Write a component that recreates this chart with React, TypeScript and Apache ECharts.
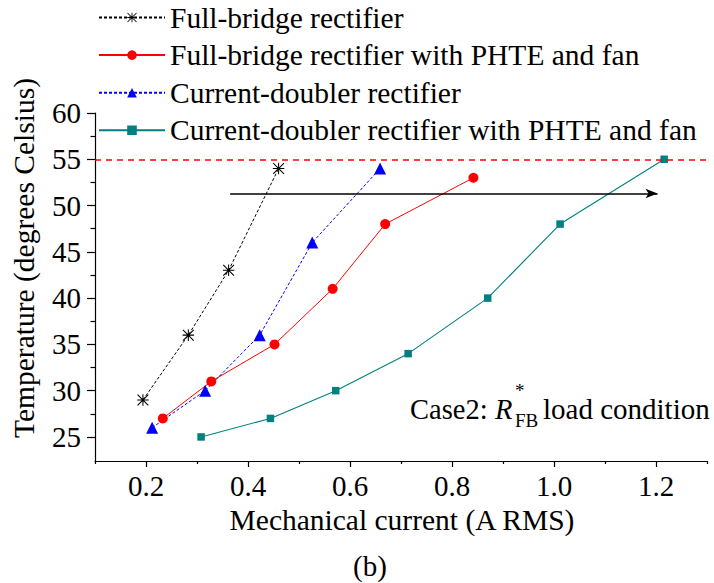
import React, { useEffect, useRef } from "react";
import * as echarts from "echarts";

const FONT = '"Liberation Serif", "Times New Roman", Times, serif';

const seriesNames = [
  "Full-bridge rectifier",
  "Full-bridge rectifier with PHTE and fan",
  "Current-doubler rectifier",
  "Current-doubler rectifier with PHTE and fan",
];

// Mechanical current (A RMS) and temperature (degrees Celsius)
const fbCurrent = [0.194, 0.283, 0.362, 0.46];
const fbTemp = [29, 36, 43, 54];
const fbPhteCurrent = [0.233, 0.328, 0.452, 0.566, 0.669, 0.842];
const fbPhteTemp = [27, 31, 35, 41, 48, 53];
const cdCurrent = [0.212, 0.316, 0.423, 0.526, 0.659];
const cdTemp = [26, 30, 36, 46, 54];
const cdPhteCurrent = [0.308, 0.444, 0.572, 0.714, 0.87, 1.012, 1.216];
const cdPhteTemp = [25, 27, 30, 34, 40, 48, 55];

const limitTemp = 55;
const arrowFrom = [0.365, 51.3];
const arrowTo = [1.203, 51.3];

const xMajorTicks = [0.2, 0.4, 0.6, 0.8, 1.0, 1.2];
const xMinorTicks = [0.1, 0.3, 0.5, 0.7, 0.9, 1.1, 1.3];
const yMajorTicks = [25, 30, 35, 40, 45, 50, 55, 60];
const yMinorTicks = [27.5, 32.5, 37.5, 42.5, 47.5, 52.5, 57.5];

const xMin = 0.1;
const xMax = 1.3;
const yMin = 22.4;
const yMax = 60;

const STAR =
  "path://M9.1 0H10.9V20H9.1Z M0 9.1H20V10.9H0Z M1.3 0L20 18.7L18.7 20L0 1.3Z M18.7 0L20 1.3L1.3 20L0 18.7Z";

const zip = (xs: number[], ys: number[]) => xs.map((x, i) => [x, ys[i]]);

const axisLineStyle = { color: "#000", width: 1.2 };

function txt(text: string, x: number, y: number, size: number, extra: any = {}) {
  return {
    type: "text",
    x,
    y,
    ...extra,
    style: {
      text,
      fontFamily: FONT,
      fontSize: size,
      fill: "#000",
      align: "center",
      verticalAlign: "middle",
      ...(extra.style || {}),
    },
  };
}

function buildOption(): any {
  return {
    animation: false,
    backgroundColor: "#fff",
    grid: { left: 95, right: 7, top: 113, bottom: 122, containLabel: false },
    legend: {
      orient: "vertical",
      left: 98,
      top: 2.5,
      padding: 0,
      itemWidth: 66,
      itemHeight: 12,
      itemGap: 7.6,
      data: seriesNames,
      textStyle: { fontFamily: FONT, fontSize: 29.5, color: "#000", lineHeight: 28.5 },
    },
    xAxis: [
      {
        type: "value",
        position: "bottom",
        min: xMin,
        max: xMax,
        axisLine: { show: true, onZero: false, lineStyle: axisLineStyle },
        axisTick: { show: true, length: 6, customValues: xMajorTicks, lineStyle: axisLineStyle },
        axisLabel: {
          customValues: xMajorTicks,
          formatter: (v: number) => v.toFixed(1),
          fontFamily: FONT,
          fontSize: 29,
          color: "#000",
          margin: 10,
        },
        splitLine: { show: false },
      },
      {
        type: "value",
        position: "bottom",
        min: xMin,
        max: xMax,
        axisLine: { show: false, onZero: false },
        axisTick: { show: true, length: 3, customValues: xMinorTicks, lineStyle: axisLineStyle },
        axisLabel: { show: false },
        splitLine: { show: false },
      },
    ],
    yAxis: [
      {
        type: "value",
        position: "left",
        min: yMin,
        max: yMax,
        axisLine: { show: true, onZero: false, lineStyle: axisLineStyle },
        axisTick: { show: true, length: 8, customValues: yMajorTicks, lineStyle: axisLineStyle },
        axisLabel: {
          customValues: yMajorTicks,
          fontFamily: FONT,
          fontSize: 29,
          color: "#000",
          margin: 14,
        },
        splitLine: { show: false },
      },
      {
        type: "value",
        position: "left",
        min: yMin,
        max: yMax,
        axisLine: { show: false, onZero: false },
        axisTick: { show: true, length: 4.5, customValues: yMinorTicks, lineStyle: axisLineStyle },
        axisLabel: { show: false },
        splitLine: { show: false },
      },
    ],
    series: [
      {
        name: seriesNames[0],
        type: "line",
        xAxisIndex: 0,
        yAxisIndex: 0,
        data: zip(fbCurrent, fbTemp),
        symbol: STAR,
        symbolSize: 11.5,
        lineStyle: { color: "#000", width: 1, type: [3, 2] },
        itemStyle: { color: "#000" },
        markLine: {
          silent: true,
          symbol: ["none", "none"],
          label: { show: false },
          data: [
            {
              yAxis: limitTemp,
              lineStyle: { color: "#ff0000", type: [6, 5], width: 1.5 },
            },
            [
              {
                coord: arrowFrom,
                symbol: "none",
                lineStyle: { color: "#000", type: "solid", width: 1.6 },
              },
              { coord: arrowTo, symbol: "arrow", symbolSize: [7, 12] },
            ],
          ],
        },
      },
      {
        name: seriesNames[1],
        type: "line",
        data: zip(fbPhteCurrent, fbPhteTemp),
        symbol: "circle",
        symbolSize: 10,
        lineStyle: { color: "#ff0000", width: 1 },
        itemStyle: { color: "#ff0000" },
      },
      {
        name: seriesNames[2],
        type: "line",
        data: zip(cdCurrent, cdTemp),
        symbol: "triangle",
        symbolSize: 12,
        lineStyle: { color: "#0000ff", width: 1, type: [3, 2] },
        itemStyle: { color: "#0000ff" },
      },
      {
        name: seriesNames[3],
        type: "line",
        data: zip(cdPhteCurrent, cdPhteTemp),
        symbol: "rect",
        symbolSize: 7.5,
        lineStyle: { color: "#008080", width: 1.1 },
        itemStyle: { color: "#008080" },
      },
    ],
    graphic: [
      txt("Temperature (degrees Celsius)", 24, 258, 29.5, { rotation: Math.PI / 2 }),
      txt("Mechanical current (A RMS)", 402, 520, 29.5),
      txt("(b)", 370, 566, 29),
      txt("Case2:", 410, 409, 28.5, { style: { align: "left" } }),
      txt("R", 495, 409, 28.5, { style: { align: "left", fontStyle: "italic" } }),
      txt("*", 515, 390, 19, { style: { align: "left" } }),
      txt("FB", 515, 420, 19, { style: { align: "left" } }),
      txt("load condition", 543, 409, 29, { style: { align: "left" } }),
    ],
  };
}

export default function App() {
  const ref = useRef<HTMLDivElement>(null);
  useEffect(() => {
    if (!ref.current) return;
    const chart = echarts.init(ref.current, null, { renderer: "svg" });
    chart.setOption(buildOption());
    return () => chart.dispose();
  }, []);
  return (
    <div
      ref={ref}
      style={{ position: "fixed", left: 0, top: 0, width: 714, height: 583 }}
    />
  );
}
